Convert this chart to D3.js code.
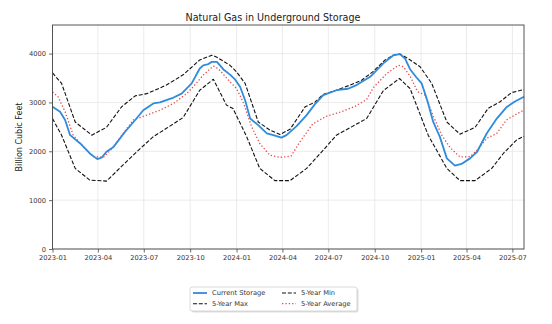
<!DOCTYPE html>
<html>
<head>
<meta charset="utf-8">
<script src="https://cdn.jsdelivr.net/npm/d3@7"></script>
<style>
  body { margin: 0; background: #fff; }
  svg { display: block; font-family: "DejaVu Sans", sans-serif; }
</style>
</head>
<body>
<div id="chart"></div>
<script>
// weekly storage levels, billion cubic feet
const currentStorage = [
  ["2023-01-01", 2910], ["2023-01-16", 2810], ["2023-01-26", 2640], ["2023-02-05", 2330],
  ["2023-02-25", 2160], ["2023-03-16", 1955], ["2023-03-31", 1840], ["2023-04-09", 1875],
  ["2023-04-18", 1990], ["2023-05-02", 2090], ["2023-05-25", 2400], ["2023-06-14", 2640],
  ["2023-06-30", 2840], ["2023-07-20", 2980], ["2023-08-02", 3000], ["2023-08-29", 3100],
  ["2023-09-14", 3180], ["2023-10-04", 3390], ["2023-10-20", 3695], ["2023-10-27", 3760],
  ["2023-11-06", 3785], ["2023-11-13", 3830], ["2023-11-23", 3830], ["2023-12-06", 3675],
  ["2023-12-19", 3570], ["2023-12-29", 3470], ["2024-01-08", 3320], ["2024-01-18", 3045],
  ["2024-01-28", 2670], ["2024-02-13", 2535], ["2024-03-01", 2365], ["2024-03-14", 2330],
  ["2024-03-30", 2280], ["2024-04-09", 2330], ["2024-04-29", 2515], ["2024-05-19", 2740],
  ["2024-06-04", 2960], ["2024-06-21", 3150], ["2024-07-17", 3250], ["2024-08-09", 3280],
  ["2024-08-26", 3355], ["2024-09-22", 3525], ["2024-10-18", 3800], ["2024-11-07", 3967],
  ["2024-11-20", 3990], ["2024-11-30", 3900], ["2024-12-10", 3680], ["2024-12-22", 3520],
  ["2025-01-02", 3390], ["2025-01-13", 3050], ["2025-01-25", 2600], ["2025-02-07", 2300],
  ["2025-02-21", 1855], ["2025-03-09", 1705], ["2025-03-22", 1740], ["2025-04-08", 1855],
  ["2025-04-22", 1990], ["2025-05-11", 2365], ["2025-05-31", 2670], ["2025-06-19", 2900],
  ["2025-07-06", 3020], ["2025-07-24", 3115]
];

const fiveYearMax = [
  ["2023-01-01", 3605], ["2023-01-19", 3390], ["2023-02-15", 2600], ["2023-03-20", 2330],
  ["2023-04-18", 2490], ["2023-05-18", 2910], ["2023-06-14", 3135], ["2023-07-07", 3180],
  ["2023-08-15", 3355], ["2023-09-17", 3565], ["2023-10-20", 3870], ["2023-11-13", 3967],
  ["2023-11-23", 3925], ["2023-12-19", 3760], ["2024-01-01", 3625], ["2024-01-18", 3390],
  ["2024-02-13", 2600], ["2024-03-07", 2435], ["2024-03-27", 2345], ["2024-04-16", 2450],
  ["2024-05-16", 2910], ["2024-06-05", 3010], ["2024-06-20", 3160], ["2024-07-17", 3250],
  ["2024-08-13", 3355], ["2024-09-05", 3455], ["2024-09-27", 3625], ["2024-10-21", 3865],
  ["2024-11-07", 3967], ["2024-11-20", 3990], ["2024-12-06", 3900], ["2024-12-30", 3730],
  ["2025-01-22", 3390], ["2025-02-21", 2600], ["2025-03-19", 2350], ["2025-04-18", 2490],
  ["2025-05-14", 2880], ["2025-06-06", 3010], ["2025-06-29", 3200], ["2025-07-24", 3265]
];

const fiveYearMin = [
  ["2023-01-01", 2670], ["2023-01-19", 2330], ["2023-02-15", 1650], ["2023-03-16", 1410],
  ["2023-04-18", 1390], ["2023-05-21", 1720], ["2023-06-17", 1990], ["2023-07-20", 2300],
  ["2023-08-15", 2470], ["2023-09-17", 2690], ["2023-10-20", 3250], ["2023-11-16", 3475],
  ["2023-12-12", 2945], ["2023-12-25", 2875], ["2024-01-21", 2300], ["2024-02-16", 1650],
  ["2024-03-17", 1400], ["2024-04-16", 1400], ["2024-05-19", 1650], ["2024-06-21", 2025],
  ["2024-07-17", 2330], ["2024-08-16", 2500], ["2024-09-15", 2670], ["2024-10-18", 3240],
  ["2024-11-19", 3490], ["2024-12-10", 3285], ["2025-01-15", 2330], ["2025-02-21", 1650],
  ["2025-03-19", 1400], ["2025-04-18", 1400], ["2025-05-21", 1650], ["2025-06-13", 1955],
  ["2025-07-09", 2230], ["2025-07-24", 2310]
];

const fiveYearAvg = [
  ["2023-01-01", 3215], ["2023-01-12", 3115], ["2023-01-26", 2810], ["2023-02-11", 2330],
  ["2023-03-03", 2090], ["2023-03-23", 1890], ["2023-04-12", 1875], ["2023-05-02", 2090],
  ["2023-05-21", 2365], ["2023-06-10", 2640], ["2023-07-07", 2740], ["2023-08-02", 2840],
  ["2023-08-29", 2980], ["2023-09-24", 3180], ["2023-10-07", 3320], ["2023-10-27", 3560],
  ["2023-11-16", 3745], ["2023-11-26", 3690], ["2023-12-19", 3420], ["2024-01-01", 3285],
  ["2024-01-14", 3010], ["2024-01-31", 2500], ["2024-02-16", 2160], ["2024-03-07", 1920],
  ["2024-03-27", 1875], ["2024-04-18", 1900], ["2024-05-06", 2200], ["2024-05-31", 2560],
  ["2024-06-28", 2720], ["2024-07-24", 2800], ["2024-08-23", 2920], ["2024-09-15", 3060],
  ["2024-09-28", 3300], ["2024-10-25", 3595], ["2024-11-17", 3760], ["2024-11-27", 3730],
  ["2024-12-10", 3540], ["2024-12-25", 3220], ["2025-01-09", 3150], ["2025-01-25", 2720],
  ["2025-02-11", 2330], ["2025-02-27", 2080], ["2025-03-19", 1885], ["2025-04-08", 1890],
  ["2025-04-21", 2010], ["2025-05-11", 2265], ["2025-05-31", 2365], ["2025-06-19", 2640],
  ["2025-07-09", 2760], ["2025-07-24", 2845]
];

const yTicks = [0, 1000, 2000, 3000, 4000];
const xTickDates = ["2023-01-01", "2023-04-01", "2023-07-01", "2023-10-01", "2024-01-01",
  "2024-04-01", "2024-07-01", "2024-10-01", "2025-01-01", "2025-04-01", "2025-07-01"];

const width = 552, height = 324;
const margin = {top: 25, right: 28, bottom: 75, left: 52.5};
const innerWidth = width - margin.left - margin.right;
const innerHeight = height - margin.top - margin.bottom;

const parse = d3.timeParse("%Y-%m-%d");

const svg = d3.select("#chart")
    .append("svg")
    .attr("width", width)
    .attr("height", height)
    .attr("viewBox", `0 0 ${width} ${height}`);

const inner = svg.append("g")
    .attr("transform", `translate(${margin.left}, ${margin.top})`);

const xScale = d3.scaleTime()
    .domain([parse("2023-01-01"), parse("2025-07-24")])
    .range([0, innerWidth]);

const yScale = d3.scaleLinear()
    .domain([0, 4585])
    .range([innerHeight, 0]);

// grid
inner.append("g")
    .selectAll("line")
    .data(xTickDates.map(parse))
    .join("line")
    .attr("x1", d => xScale(d)).attr("x2", d => xScale(d))
    .attr("y1", 0).attr("y2", innerHeight)
    .attr("stroke", "#e6e6e6").attr("stroke-width", 0.8);

inner.append("g")
    .selectAll("line")
    .data(yTicks)
    .join("line")
    .attr("x1", 0).attr("x2", innerWidth)
    .attr("y1", d => yScale(d)).attr("y2", d => yScale(d))
    .attr("stroke", "#e6e6e6").attr("stroke-width", 0.8);

const line = d3.line()
    .x(d => xScale(parse(d[0])))
    .y(d => yScale(d[1]));

const series = [
    {name: "Current Storage", data: currentStorage, color: "#2f8bdc", width: 1.8, dash: null},
    {name: "5-Year Max", data: fiveYearMax, color: "#111", width: 1.1, dash: "4,1.8"},
    {name: "5-Year Min", data: fiveYearMin, color: "#111", width: 1.1, dash: "4,1.8"},
    {name: "5-Year Average", data: fiveYearAvg, color: "#e8464c", width: 1.3, dash: "1.3,2.1"}
];

// dashed/dotted lines first, current storage on top
[series[1], series[2], series[3], series[0]].forEach(s => {
    inner.append("path")
        .datum(s.data)
        .attr("fill", "none")
        .attr("stroke", s.color)
        .attr("stroke-width", s.width)
        .attr("stroke-dasharray", s.dash)
        .attr("stroke-linejoin", "round")
        .attr("d", line);
});

// frame
inner.append("rect")
    .attr("width", innerWidth).attr("height", innerHeight)
    .attr("fill", "none").attr("stroke", "#444").attr("stroke-width", 0.9);

const bottomAxis = d3.axisBottom(xScale)
    .tickValues(xTickDates.map(parse))
    .tickFormat(d3.timeFormat("%Y-%m"))
    .tickSize(3.5);
const leftAxis = d3.axisLeft(yScale)
    .tickValues(yTicks)
    .tickFormat(d3.format("d"))
    .tickSize(3.5);

const gx = inner.append("g")
    .attr("transform", `translate(0, ${innerHeight})`)
    .call(bottomAxis);
const gy = inner.append("g").call(leftAxis);
[gx, gy].forEach(g => {
    g.attr("font-family", "DejaVu Sans").attr("font-size", 6.7);
    g.select(".domain").remove();
    g.selectAll(".tick line").attr("stroke", "#444").attr("stroke-width", 0.8);
    g.selectAll(".tick text")
        .attr("fill", "#333")
        .attr("font-size", 6.7)
        .attr("dy", null);
});
// place labels by baseline
gx.selectAll(".tick text").attr("y", 10.8);
gy.selectAll(".tick text").attr("x", -6.5).attr("y", 2.4);

// title and axis label
svg.append("text")
    .text("Natural Gas in Underground Storage")
    .attr("x", 273).attr("y", 21)
    .attr("text-anchor", "middle")
    .attr("font-size", 9.6)
    .attr("fill", "#222");

svg.append("text")
    .text("Billion Cubic Feet")
    .attr("font-size", 8)
    .attr("fill", "#222")
    .attr("text-anchor", "middle")
    .attr("transform", `translate(22, ${margin.top + innerHeight / 2}) rotate(-90)`);

// legend, two columns
const legend = svg.append("g").attr("transform", "translate(190, 287)");
legend.append("rect")
    .attr("x", 1.5).attr("y", 1.5).attr("width", 167).attr("height", 24).attr("rx", 2)
    .attr("fill", "#bbb").attr("opacity", 0.5);
legend.append("rect")
    .attr("width", 167).attr("height", 24).attr("rx", 2)
    .attr("fill", "#fff").attr("stroke", "#d0d0d0").attr("stroke-width", 0.8);

series.forEach((s, i) => {
    const col = Math.floor(i / 2), row = i % 2;
    const lx = 3 + col * 89, ly = 6 + row * 10.7;
    legend.append("line")
        .attr("x1", lx).attr("x2", lx + 14)
        .attr("y1", ly).attr("y2", ly)
        .attr("stroke", s.color)
        .attr("stroke-width", s.width)
        .attr("stroke-dasharray", s.dash);
    legend.append("text")
        .text(s.name)
        .attr("x", lx + 19).attr("y", ly + 2.4)
        .attr("font-size", 6.7)
        .attr("fill", "#333");
});
</script>
</body>
</html>
